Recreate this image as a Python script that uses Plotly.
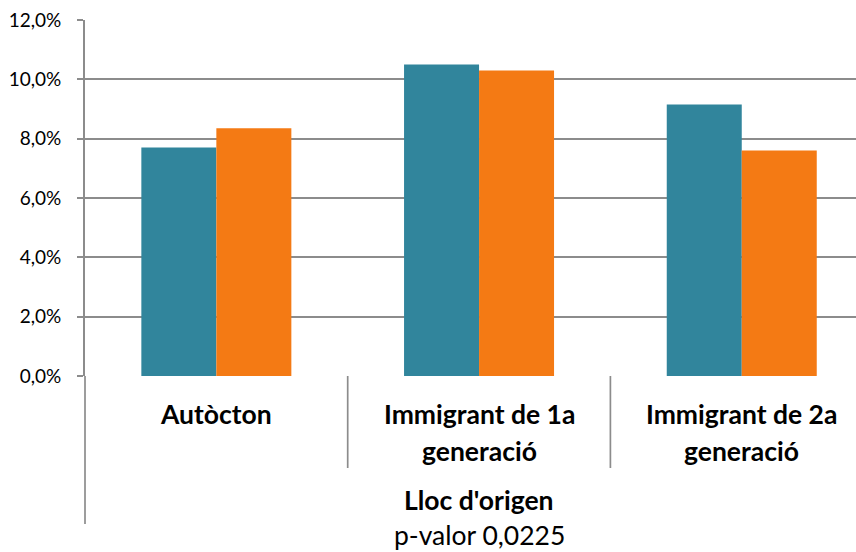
import plotly.graph_objects as go

categories = ["Autòcton", "Immigrant de 1a generació", "Immigrant de 2a generació"]
label_line1 = ["Autòcton", "Immigrant de 1a", "Immigrant de 2a"]
label_line2 = ["", "generació", "generació"]
series_a = [7.7, 10.5, 9.15]
series_b = [8.35, 10.3, 7.6]
ytick_vals = [0, 2, 4, 6, 8, 10, 12]
ytick_text = ["0,0%", "2,0%", "4,0%", "6,0%", "8,0%", "10,0%", "12,0%"]
axis_title = "Lloc d'origen"
subtitle = "p-valor 0,0225"

TEAL = "#31859C"
ORANGE = "#F47A14"
GRID = "#8C8C8C"
FONT = "Lato"
LBL = 26.5
LW = 1.7

W, H = 856, 552
ml, mr, mt, mb = 85, 0, 20, 176
plot_h = H - mt - mb
cat_w = 262.7
x_end = -0.5 + (W - ml - mr) / cat_w

fig = go.Figure()
fig.add_trace(go.Bar(x=categories, y=series_a, marker_color=TEAL, marker_line_width=0, showlegend=False))
fig.add_trace(go.Bar(x=categories, y=series_b, marker_color=ORANGE, marker_line_width=0, showlegend=False))

def py(pix):
    return (H - mb - pix) / plot_h

# divider lines between categories
for i in range(len(categories) - 1):
    fig.add_shape(type="line", xref="x", yref="paper", x0=i + 0.5, x1=i + 0.5,
                  y0=0, y1=py(468), line=dict(color=GRID, width=LW))
# left axis extension
fig.add_shape(type="line", xref="paper", yref="paper", x0=0, x1=0, y0=0, y1=py(524),
              line=dict(color=GRID, width=LW))

for i, c in enumerate(categories):
    fig.add_annotation(x=c, xref="x", yref="paper", y=py(414), text="<b>%s</b>" % label_line1[i],
                       showarrow=False, yanchor="middle", font=dict(family=FONT, size=LBL, color="black"))
    if label_line2[i]:
        fig.add_annotation(x=c, xref="x", yref="paper", y=py(451), text="<b>%s</b>" % label_line2[i],
                           showarrow=False, yanchor="middle", font=dict(family=FONT, size=LBL, color="black"))

fig.add_annotation(x=categories[1], xref="x", yref="paper", y=py(500),
                   text="<b>%s</b>" % axis_title, showarrow=False, yanchor="middle",
                   font=dict(family=FONT, size=LBL, color="black"))
fig.add_annotation(x=categories[1], xref="x", yref="paper", y=py(535), text=subtitle, showarrow=False,
                   yanchor="middle", font=dict(family=FONT, size=LBL, color="black"))

fig.update_layout(
    width=W, height=H,
    margin=dict(l=ml, r=mr, t=mt, b=mb, pad=0, autoexpand=False),
    paper_bgcolor="white", plot_bgcolor="white",
    barmode="group", bargap=0.429, bargroupgap=0,
    font=dict(family=FONT, size=19, color="black"),
)
fig.update_xaxes(range=[-0.5, x_end], showticklabels=False, showgrid=False, zeroline=False,
                 showline=False, ticks="", automargin=False)
fig.update_yaxes(range=[0, 12], tickvals=ytick_vals, ticktext=ytick_text, showgrid=True,
                 gridcolor=GRID, gridwidth=LW, zeroline=False, showline=True, linecolor=GRID,
                 linewidth=LW, ticks="outside", ticklen=6, tickcolor=GRID, tickwidth=LW,
                 ticklabelstandoff=12, automargin=False,
                 tickfont=dict(family=FONT, size=19, color="black"))

fig.write_html("out.html", config={"displayModeBar": False},
               post_script="document.body.style.margin='0';document.body.style.overflow='hidden';")
